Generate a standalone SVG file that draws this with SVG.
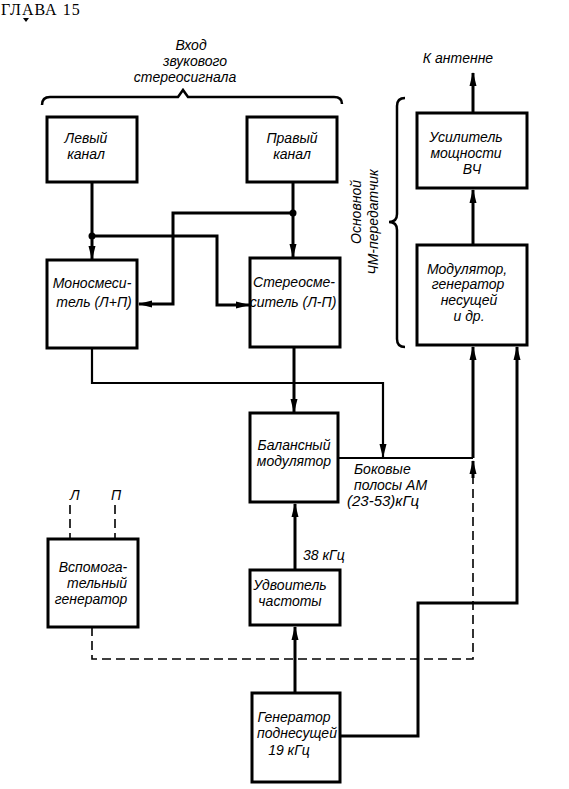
<svg xmlns="http://www.w3.org/2000/svg" width="569" height="789" viewBox="0 0 569 789">
<defs>
<marker id="a" markerUnits="userSpaceOnUse" markerWidth="14" markerHeight="8" viewBox="0 0 14 8" refX="13" refY="4" orient="auto">
<path d="M0,0.5 L14,4 L0,7.5 Z" fill="#000"/>
</marker>
<style>
.box{fill:#fff;stroke:#000;stroke-width:3}
.t{font-family:"Liberation Sans","DejaVu Sans",sans-serif;font-style:italic;font-size:14px;fill:#000;text-anchor:middle}
.l{font-family:"Liberation Sans","DejaVu Sans",sans-serif;font-style:italic;font-size:14px;fill:#000}
.c{fill:none;stroke:#000;stroke-width:3}
.thin{fill:none;stroke:#000;stroke-width:2.2}
.d{fill:none;stroke:#000;stroke-width:1.6;stroke-dasharray:9,5}
</style>
</defs>
<rect width="569" height="789" fill="#fff"/>
<g id="header">
<text x="1" y="15" style="font-family:'Liberation Serif',serif;font-size:16px;letter-spacing:1px" fill="#000">ГЛАВА 15</text>
<polygon points="23,18 29,18 26,22" fill="#000"/>
</g>
<g id="input-label">
<text class="t" x="191" y="50">Вход</text>
<text class="t" x="195" y="66">звукового</text>
<text class="t" x="185" y="82">стереосигнала</text>
<path d="M42,105 Q42,97 50,97 H178 L183,90 L188,97 H334 Q342,97 342,104" fill="none" stroke="#000" stroke-width="2.5"/>
</g>
<g id="transmitter-label">
<path d="M405,98 Q397,98 397,106 V214 Q397,222 389,222 Q397,222 397,230 V339 Q397,347 405,347" fill="none" stroke="#000" stroke-width="2.5"/>
<text class="t" transform="translate(361,212) rotate(-90)">Основной</text>
<text class="t" transform="translate(378,222) rotate(-90)">ЧМ-передатчик</text>
</g>
<g id="connectors">
<path class="c" d="M92,182 V259" marker-end="url(#a)"/>
<path class="c" d="M92,236 H217 V305 H249" marker-end="url(#a)"/>
<path class="c" d="M293,182 V257" marker-end="url(#a)"/>
<path class="c" d="M293,213 H173 V304 H139" marker-end="url(#a)"/>
<circle cx="92" cy="236" r="3.5" fill="#000"/>
<circle cx="293" cy="213" r="3.5" fill="#000"/>
<path class="thin" d="M92,348 V383 H383 V457" marker-end="url(#a)"/>
<path class="c" d="M294,347 V412" marker-end="url(#a)"/>
<path class="thin" d="M338,458 H473"/>
<path class="c" d="M473,458 V347" marker-end="url(#a)"/>
<path class="d" d="M92,627 V659 H473 V470"/>
<path class="c" d="M473,478 V461" marker-end="url(#a)" stroke-width="1.6"/>
<path class="c" d="M340,736 H418 V603 H517 V347" marker-end="url(#a)"/>
<path class="c" d="M295,693 V627" marker-end="url(#a)"/>
<path class="c" d="M295,570 V504" marker-end="url(#a)"/>
<path class="c" d="M473,245 V190" marker-end="url(#a)"/>
<path class="c" d="M473,113 V73" marker-end="url(#a)"/>
<path class="d" d="M70,505 V539"/>
<path class="d" d="M115,505 V539"/>
</g>
<g id="left-channel">
<rect class="box" x="47" y="117" width="90" height="65"/>
<text class="t" x="86" y="143">Левый</text>
<text class="t" x="86" y="159">канал</text>
</g>
<g id="right-channel">
<rect class="box" x="247" y="117" width="90" height="65"/>
<text class="t" x="292" y="143">Правый</text>
<text class="t" x="292" y="159">канал</text>
</g>
<g id="mono-mixer">
<rect class="box" x="47" y="260" width="90" height="88"/>
<text class="t" x="92" y="288">Моносмеси-</text>
<text class="t" x="94" y="307">тель (Л+П)</text>
</g>
<g id="stereo-mixer">
<rect class="box" x="250" y="258" width="90" height="89"/>
<text class="t" x="294" y="287">Стереосме-</text>
<text class="t" x="293" y="307">ситель (Л-П)</text>
</g>
<g id="balanced-modulator">
<rect class="box" x="250" y="413" width="88" height="89"/>
<text class="t" x="294" y="450">Балансный</text>
<text class="t" x="294" y="466">модулятор</text>
</g>
<g id="sidebands-label">
<text class="l" x="354" y="474">Боковые</text>
<text class="l" x="354" y="490">полосы АМ</text>
<text class="l" x="347" y="506" style="font-size:15px">(23-53)кГц</text>
</g>
<g id="antenna-label">
<text class="t" x="458" y="63">К антенне</text>
</g>
<g id="power-amp">
<rect class="box" x="417" y="113" width="110" height="75"/>
<text class="t" x="466" y="142">Усилитель</text>
<text class="t" x="466" y="158">мощности</text>
<text class="t" x="472" y="174">ВЧ</text>
</g>
<g id="modulator">
<rect class="box" x="417" y="245" width="110" height="100"/>
<text class="t" x="467" y="274">Модулятор,</text>
<text class="t" x="468" y="289">генератор</text>
<text class="t" x="469" y="305">несущей</text>
<text class="t" x="469" y="321">и  др.</text>
</g>
<g id="aux-generator">
<rect class="box" x="48" y="539" width="90" height="88"/>
<text class="l" x="70" y="500">Л</text>
<text class="l" x="111" y="500">П</text>
<text class="t" x="93" y="572">Вспомога-</text>
<text class="t" x="97" y="588">тельный</text>
<text class="t" x="91" y="604">генератор</text>
</g>
<g id="doubler">
<rect class="box" x="250" y="570" width="90" height="55"/>
<text class="l" x="303" y="560">38 кГц</text>
<text class="t" x="290" y="590">Удвоитель</text>
<text class="t" x="290" y="606">частоты</text>
</g>
<g id="subcarrier-generator">
<rect class="box" x="252" y="693" width="88" height="89"/>
<text class="t" x="294" y="722">Генератор</text>
<text class="t" x="297" y="738">поднесущей</text>
<text class="t" x="289" y="755">19 кГц</text>
</g>
</svg>
